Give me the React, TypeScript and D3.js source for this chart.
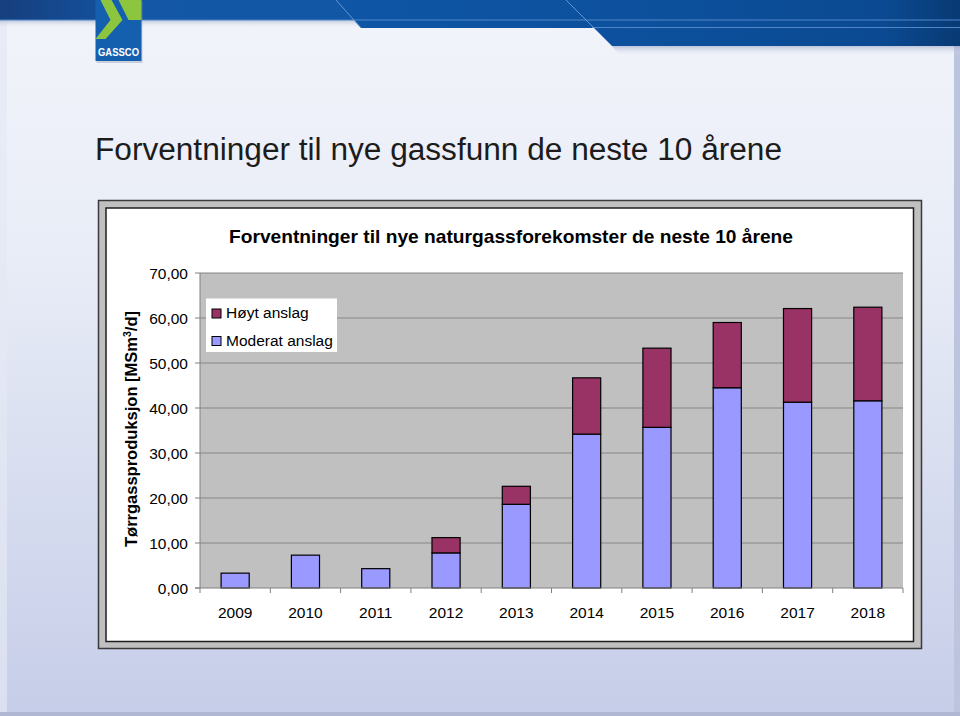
import React from 'react';
import * as d3 from 'd3';

const years = ['2009', '2010', '2011', '2012', '2013', '2014', '2015', '2016', '2017', '2018'];
const moderat = [3.3, 7.3, 4.3, 7.8, 18.6, 34.2, 35.7, 44.5, 41.3, 41.6];
const hoyt = [0, 0, 0, 3.4, 4.0, 12.5, 17.6, 14.5, 20.8, 20.8];
const yTicks = [0, 10, 20, 30, 40, 50, 60, 70];
const seriesNames = ['Moderat anslag', 'Høyt anslag'];
const legendOrder = ['Høyt anslag', 'Moderat anslag'];
const colors: Record<string, string> = { 'Moderat anslag': '#9999FF', 'Høyt anslag': '#993366' };
const slideTitle = 'Forventninger til nye gassfunn de neste 10 årene';
const chartTitle = 'Forventninger til nye naturgassforekomster de neste 10 årene';

const FONT = '"Liberation Sans", Arial, Helvetica, sans-serif';

export default function App() {
  const W = 960, H = 716;
  const plot = { x0: 200, x1: 903, y0: 273, y1: 588 };
  const x = d3.scaleBand<string>().domain(years).range([plot.x0, plot.x1]).paddingInner(0.6).paddingOuter(0.3);
  const y = d3.scaleLinear().domain([0, 70]).range([plot.y1, plot.y0]);
  const rows = years.map((yr, i) => ({ year: yr, 'Moderat anslag': moderat[i], 'Høyt anslag': hoyt[i] }));
  const stacked = d3.stack<any>().keys(seriesNames)(rows);
  const step = x.step();
  const fmt = (v: number) => v.toFixed(2).replace('.', ',');

  return (
    <svg width={W} height={H} style={{ position: 'absolute', left: 0, top: 0 }} fontFamily={FONT}>
      <defs>
        <linearGradient id="bg" x1="0" y1="0" x2="0" y2="1">
          <stop offset="0" stopColor="#F2F4FA" />
          <stop offset="0.35" stopColor="#E9EDF7" />
          <stop offset="1" stopColor="#C6CDE8" />
        </linearGradient>
        <linearGradient id="band1" x1="0" y1="0" x2="1" y2="0">
          <stop offset="0" stopColor="#163F7E" />
          <stop offset="0.15" stopColor="#1357A6" />
          <stop offset="0.7" stopColor="#0D57A6" />
          <stop offset="1" stopColor="#0A3F80" />
        </linearGradient>
        <linearGradient id="band2" x1="0" y1="0" x2="1" y2="0">
          <stop offset="0" stopColor="#0E56A6" />
          <stop offset="1" stopColor="#0A4A92" />
        </linearGradient>
        <linearGradient id="band3" x1="0" y1="0" x2="1" y2="0">
          <stop offset="0" stopColor="#0D52A0" />
          <stop offset="0.8" stopColor="#0B4A92" />
          <stop offset="1" stopColor="#083A74" />
        </linearGradient>
        <linearGradient id="shadow" x1="0" y1="0" x2="0" y2="1">
          <stop offset="0" stopColor="#9AA6C4" stopOpacity="0.6" />
          <stop offset="1" stopColor="#E9EDF7" stopOpacity="0" />
        </linearGradient>
      </defs>

      {/* slide background */}
      <rect x={0} y={0} width={W} height={H} fill="url(#bg)" />
      <rect x={0} y={0} width={7} height={H} fill="#E4E8F4" opacity={0.7} />
      <rect x={954} y={0} width={6} height={H} fill="#BCC4DE" />
      <rect x={0} y={712} width={W} height={4} fill="#AFB7D2" />

      {/* header bands */}
      <rect x={0} y={20} width={W} height={8} fill="url(#shadow)" />
      <polygon points="612,46 960,46 960,56 620,56" fill="url(#shadow)" />
      <polygon points="0,0 960,0 960,20 0,20" fill="url(#band1)" />
      <polygon points="336,0 960,0 960,28 361,28" fill="url(#band2)" />
      <polygon points="566,0 960,0 960,46 612,46" fill="url(#band3)" />
      <line x1={0} y1={20} x2={960} y2={20} stroke="#4F86C9" strokeWidth={1.2} />
      <line x1={592} y1={27.5} x2={960} y2={27.5} stroke="#4F86C9" strokeWidth={1.2} />
      <line x1={336} y1={0} x2={361} y2={28} stroke="#7FA6D8" strokeWidth={0.8} />
      <line x1={566} y1={0} x2={612} y2={46} stroke="#7FA6D8" strokeWidth={0.8} />

      {/* logo */}
      <g transform="translate(95.5,0)">
        <rect x={1} y={1} width={46} height={62} fill="#8C9AB8" opacity={0.4} />
        <rect x={0} y={0} width={46} height={61} fill="#1560AE" />
        <polygon points="5,0 16,0 27,20 10,39 0,39 15,20" fill="#8CC63F" />
        <polygon points="23,0 46,0 46,20 33,20" fill="#8CC63F" />
        <text x={23} y={56} textAnchor="middle" fill="#FFFFFF" fontSize={10} fontWeight="bold" textLength={41} lengthAdjust="spacingAndGlyphs">GASSCO</text>
      </g>

      {/* slide title */}
      <text x={95} y={160} fontSize={31} fill="#1C1C1C" textLength={687} lengthAdjust="spacingAndGlyphs">{slideTitle}</text>

      {/* chart frame */}
      <rect x={98.5} y={200.5} width={823} height={448} fill="#C0C0C0" stroke="#3A3A3A" strokeWidth={1.5} />
      <rect x={106} y={208} width={807.5} height={433.5} fill="#FFFFFF" stroke="#1E1E1E" strokeWidth={1.5} />

      {/* chart title */}
      <text x={511} y={243} textAnchor="middle" fontSize={19} fontWeight="bold" fill="#000" textLength={564} lengthAdjust="spacingAndGlyphs">{chartTitle}</text>

      {/* plot area */}
      <rect x={plot.x0} y={plot.y0} width={plot.x1 - plot.x0} height={plot.y1 - plot.y0} fill="#C0C0C0" />
      {yTicks.filter(t => t > 0).map(t => (
        <line key={'g' + t} x1={plot.x0} x2={plot.x1} y1={y(t)} y2={y(t)} stroke="#868686" strokeWidth={1} />
      ))}

      {/* bars */}
      {stacked.map(s => (
        <g key={s.key}>
          {s.map((d, i) => (
            d[1] - d[0] > 0 ? (
              <rect key={i} x={x(years[i])!} width={x.bandwidth()} y={y(d[1])} height={y(d[0]) - y(d[1])}
                fill={colors[s.key]} stroke="#000" strokeWidth={1.2} />
            ) : null
          ))}
        </g>
      ))}

      {/* axes */}
      <line x1={plot.x0} x2={plot.x0} y1={plot.y0} y2={plot.y1} stroke="#808080" strokeWidth={1} />
      <line x1={plot.x0 - 5} x2={plot.x1} y1={plot.y1} y2={plot.y1} stroke="#808080" strokeWidth={1} />
      {yTicks.map(t => (
        <g key={'yt' + t}>
          <line x1={plot.x0 - 5} x2={plot.x0} y1={y(t)} y2={y(t)} stroke="#808080" />
          <text x={188} y={y(t)} dy="0.36em" textAnchor="end" fontSize={15.5} fill="#000">{fmt(t)}</text>
        </g>
      ))}
      {years.map((yr, i) => (
        <line key={'xt' + yr} x1={plot.x0 + i * step} x2={plot.x0 + i * step} y1={plot.y1} y2={plot.y1 + 5} stroke="#808080" />
      ))}
      <line x1={plot.x1} x2={plot.x1} y1={plot.y1} y2={plot.y1 + 5} stroke="#808080" />
      {years.map(yr => (
        <text key={'xl' + yr} x={x(yr)! + x.bandwidth() / 2} y={618} textAnchor="middle" fontSize={15.5} fill="#000">{yr}</text>
      ))}

      {/* y-axis title */}
      <text transform="translate(137,429) rotate(-90)" textAnchor="middle" fontSize={16.5} fontWeight="bold" fill="#000">
        Tørrgassproduksjon [MSm<tspan fontSize={10.5} dy={-6}>3</tspan><tspan dy={6}>/d]</tspan>
      </text>

      {/* legend */}
      <rect x={206} y={298.5} width={131} height={53.5} fill="#FFFFFF" />
      {legendOrder.map((name, i) => (
        <g key={name} transform={`translate(212,${309 + i * 27.5})`}>
          <rect x={0} y={0} width={9} height={9} fill={colors[name]} stroke="#000" strokeWidth={1} />
          <text x={14} y={9} fontSize={15.5} fill="#000">{name}</text>
        </g>
      ))}
    </svg>
  );
}
